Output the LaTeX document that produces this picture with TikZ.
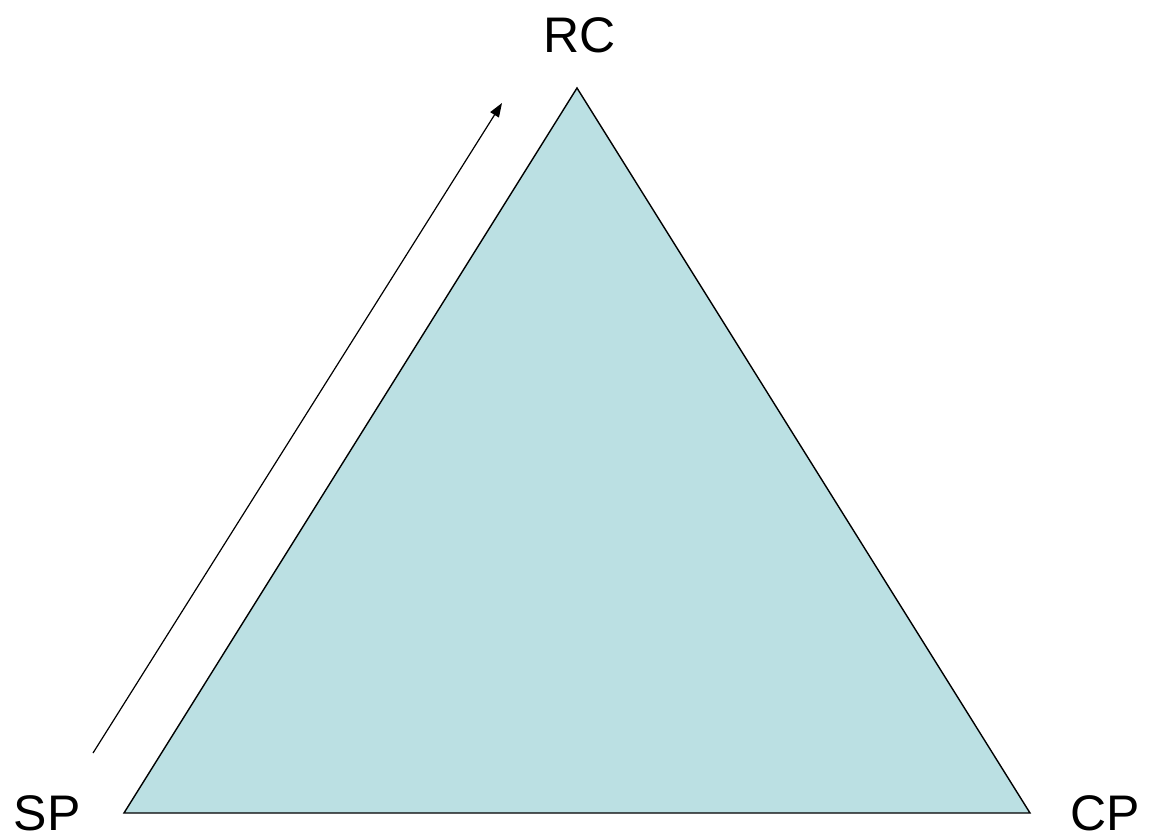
\documentclass[tikz,border=0pt]{standalone}
\usepackage{fontspec}
\setmainfont{Liberation Sans}
\usetikzlibrary{arrows.meta}
\definecolor{trifill}{HTML}{BBE0E3}
\begin{document}
\begin{tikzpicture}[x=1pt,y=-1pt,
  lbl/.style={font=\fontsize{50}{58}\selectfont, inner sep=0pt, anchor=base},
  tri/.style={draw=black, line width=1.4pt, fill=trifill, line join=miter},
  arr/.style={draw=black, line width=1.2pt, -{Triangle[length=14pt,width=10pt]}}]
\useasboundingbox (0,0) rectangle (1149,839);
\coordinate (top) at (577,88);
\coordinate (bl) at (124,813);
\coordinate (br) at (1030,813);
\path[tri] (top) -- (bl) -- (br) -- cycle;
\coordinate (as) at (93,753);
\coordinate (ae) at (502,103);
\draw[arr] (as) -- (ae);
\node[lbl] (rc) at (580,52) {RC};
\node[lbl] (sp) at (47,830) {SP};
\node[lbl] (cp) at (1105,830) {CP};
\end{tikzpicture}
\end{document}
